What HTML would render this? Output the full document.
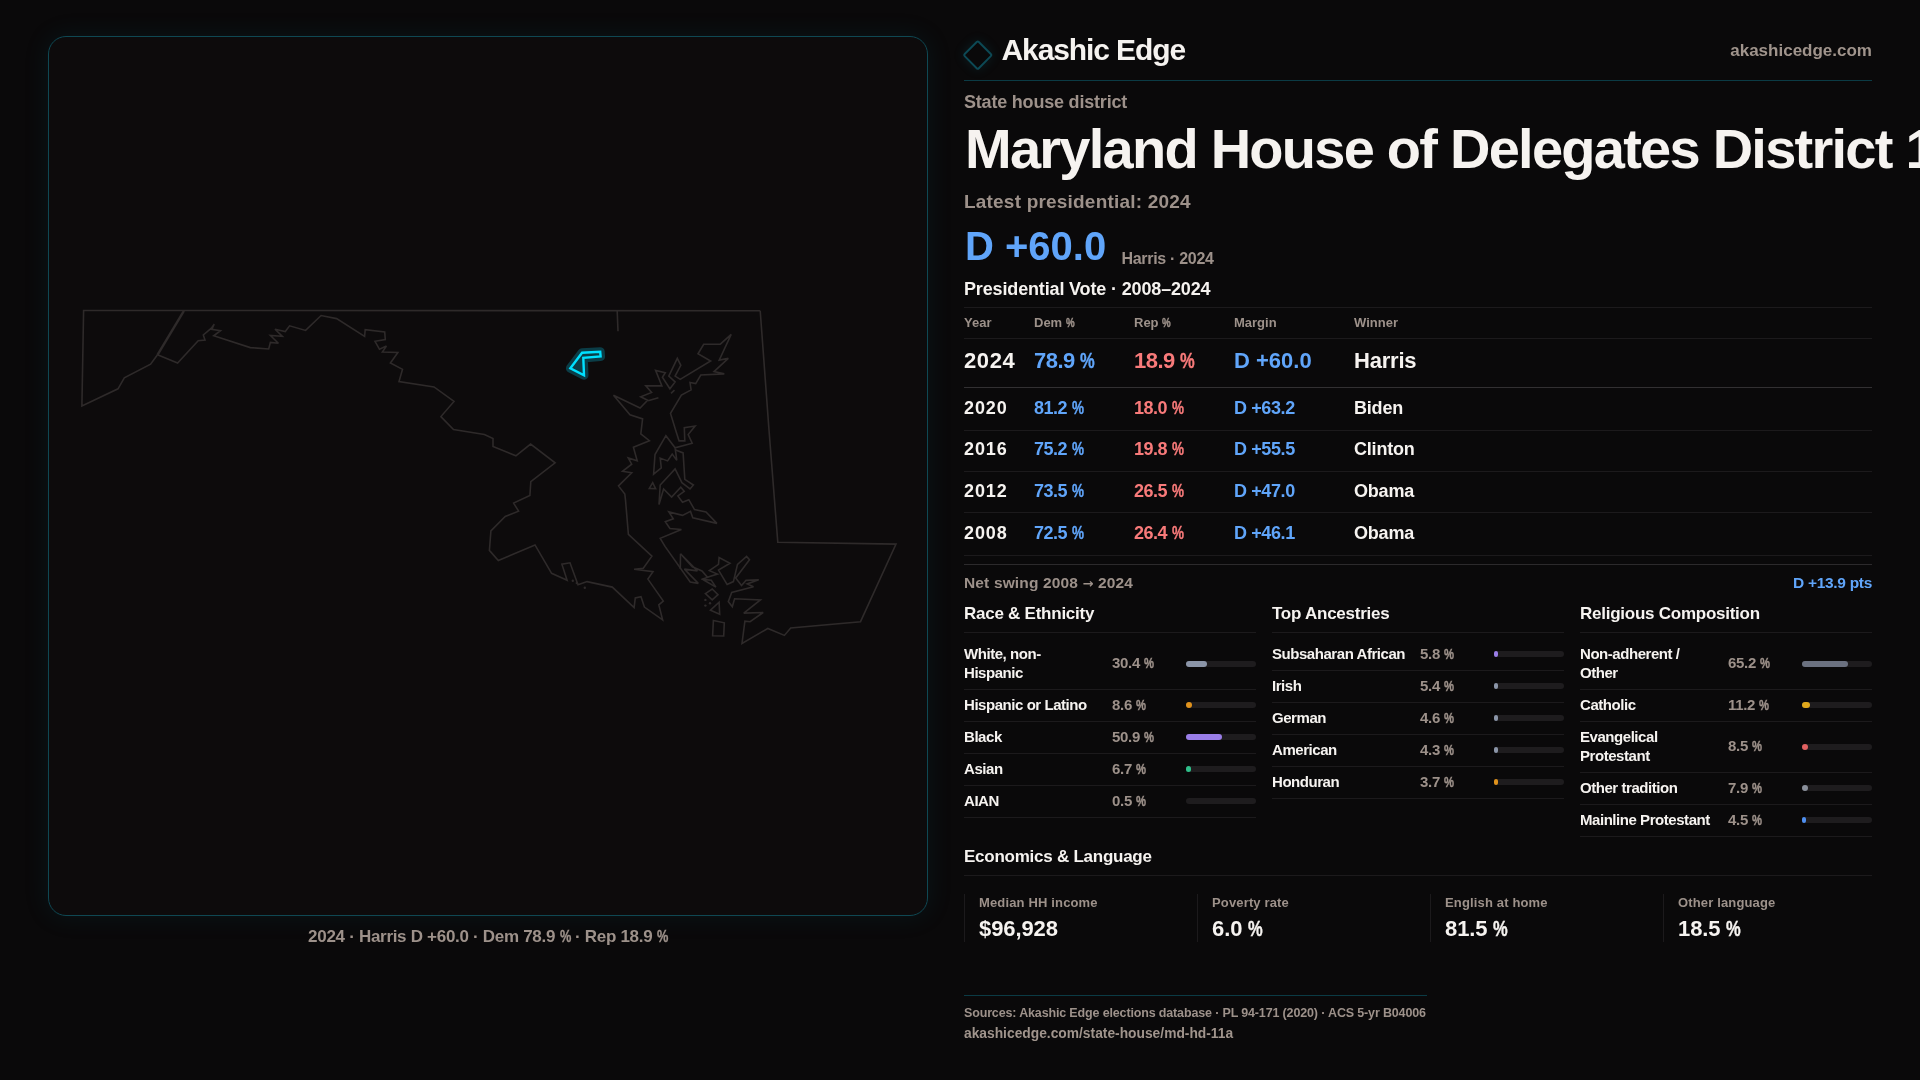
<!DOCTYPE html>
<html><head><meta charset="utf-8"><title>Maryland House of Delegates District 11A</title>
<style>
*{box-sizing:border-box;margin:0;padding:0}
html,body{width:1920px;height:1080px;overflow:hidden;background:#0a090a;color:#f5f2ef;font-family:"Liberation Sans",Arial,sans-serif;font-weight:bold}
.t{position:absolute;white-space:nowrap}
#root{position:absolute;left:0;top:0;width:1920px;height:1080px;will-change:transform}
.ln{position:absolute}
.wh{color:#f6f3f0}
.mu{color:#9d918a}
.mu2{color:#a0948c}
.bl{color:#60a5fa}
.rd{color:#f87a7a}
#map{position:absolute;left:48px;top:36px;width:880px;height:880px;border:1px solid #0f4853;border-radius:18px;background:#0d0b0c;box-shadow:0 0 24px 2px rgba(20,120,140,0.10)}
#map svg{position:absolute;left:-1px;top:-1px}
.dia{position:absolute;left:966.85px;top:44.25px;width:21.5px;height:21.5px;border:2.1px solid #0d4955;border-radius:2.5px;transform:rotate(45deg);box-shadow:0 0 12px rgba(20,120,140,.18)}
.trk{position:absolute;width:70px;height:6px;border-radius:3px;background:#1e1c1e}
.bar{position:absolute;height:6px;border-radius:3px}
i.p{font-style:normal;display:inline-block;transform:scaleX(.75);-webkit-text-stroke:0.4px currentColor;transform-origin:0 50%;margin-right:-0.22em}
.ar{font-family:'DejaVu Sans',sans-serif;font-weight:bold;font-size:13px}
.vl{position:absolute;width:1px;background:#1c1a1c}
</style></head>
<body>
<div id="root">
<div id="map"><svg width="880" height="880" viewBox="48 36 880 880"><polyline points="760.2,310.7 83.6,310.5 81.9,406.0 118.0,388.8 124.3,377.9 150.6,364.2 157.5,354.8 177.6,363.0 198.2,340.7 205.0,340.1 203.3,335.0 211.4,328.1 214.2,324.1 211.9,329.3 220.5,330.7 213.7,335.8 250.3,347.6 268.7,349.0 270.4,342.4 278.4,343.3 270.4,335.5 282.4,336.4 275.0,329.2 285.3,331.5 289.6,325.8 305.6,330.4 321.1,315.5 336.6,318.6 364.6,336.4 365.2,329.6 384.7,331.9 385.3,339.5 375.0,341.3 379.5,349.3 386.4,346.1 382.4,352.1 397.9,352.5 390.4,363.0 402.5,369.3 399.0,381.6 434.0,386.9 454.0,401.4 440.9,416.6 453.5,429.6 484.4,434.4 493.0,438.4 493.0,446.4 515.9,455.8 530.6,444.1 555.1,462.8 530.8,481.6 529.9,495.5 513.6,503.1 518.6,511.2 505.2,516.5 490.9,530.9 489.4,550.4 498.3,560.5 535.0,544.9 551.6,573.3 567.1,580.2 561.9,564.2 570.0,562.8 578.0,584.8 587.1,581.6 612.3,587.1 634.1,607.7 635.3,598.0 641.0,596.8 644.4,607.1 662.6,619.8 658.8,604.8 663.3,601.1 647.9,579.1 653.0,571.6 634.1,569.3 643.3,568.2 651.9,556.1 628.4,534.4 625.5,500.0 624.8,494.0 618.5,485.9 631.7,472.8 622.5,471.3 631.7,464.2 628.2,457.9 637.2,460.7 633.4,447.2 649.4,440.7 640.8,433.8 642.6,418.9 630.0,414.7 613.5,395.2 640.1,408.0 647.6,400.2 640.7,396.8 651.6,392.4 645.8,385.9 661.9,385.9 655.6,370.4 665.3,372.7 662.4,377.3 669.9,388.8 675.1,381.9 668.8,376.1 677.3,358.4 680.8,365.3 675.1,376.1 680.2,379.4 710.6,361.0 698.0,353.8 703.7,344.3 720.3,344.1 731.2,334.3 719.2,360.1 728.3,358.4 714.0,371.6 724.3,373.9 700.8,375.0 695.7,383.6 690.0,382.5 691.1,389.9 681.4,395.1 670.5,413.4 675.6,430.0 679.1,440.9 684.8,440.9 684.3,427.7 695.1,426.0 688.2,434.6 692.2,443.2 675.1,447.8 665.9,435.7 655.0,454.6 653.6,474.1 661.3,467.8 660.2,458.1 667.6,460.9 672.2,454.1 676.8,460.4 675.1,447.8" fill="none" stroke="#2e2a2a" stroke-width="1.6" stroke-linejoin="miter" stroke-miterlimit="3"/><polyline points="675.6,450.1 683.1,452.9 684.8,479.3 693.4,485.0 690.0,489.0 681.9,482.7 675.1,469.0 660.2,485.0 659.0,504.5 663.6,489.0 671.6,497.0 680.8,487.3 684.2,491.3 677.9,495.9 682.5,502.2 688.8,499.7 694.5,509.6 706.0,511.9 716.9,523.4 692.8,517.7 690.5,511.4 682.5,515.4 668.8,511.9 673.3,518.8 665.3,521.7 669.9,528.5 681.4,529.5 660.2,538.3 665.0,546.4 690.2,582.0 698.3,583.4 684.4,569.1 697.4,570.9 680.5,553.8 692.3,566.8 702.0,570.9 707.6,577.4 701.6,579.3 711.3,580.2 715.9,587.1 702.5,579.3 708.2,577.0 717.4,574.1 709.4,570.7 718.5,564.4 719.1,557.5 730.0,563.2 718.5,570.1 727.1,584.4 733.4,581.6 737.5,564.4 746.6,556.4 749.5,559.8 735.7,578.1 741.5,585.6 746.0,580.4 758.7,579.8 747.2,583.9 753.5,586.7 731.7,592.5 728.3,601.6 732.3,606.8 734.6,598.8 760.4,599.9 743.8,613.1 763.2,612.5 750.1,621.7 744.9,621.1 742.0,643.4 767.8,628.5 784.4,635.4 790.7,628.0 860.5,621.7 896.0,544.1 777.8,542.3 769.0,430.0 760.2,310.7" fill="none" stroke="#2e2a2a" stroke-width="1.6" stroke-linejoin="miter" stroke-miterlimit="3"/><polyline points="157.5,354.8 183.9,310.9" fill="none" stroke="#2e2a2a" stroke-width="1.6" stroke-linejoin="miter" stroke-miterlimit="3" style="stroke-width:2.4"/><polyline points="617.2,311.0 618.0,331.2" fill="none" stroke="#2e2a2a" stroke-width="1.6" stroke-linejoin="miter" stroke-miterlimit="3"/><polyline points="680.5,553.8 680.3,569.0" fill="none" stroke="#2e2a2a" stroke-width="1.6" stroke-linejoin="miter" stroke-miterlimit="3"/><polyline points="648.1,400.8 658.4,397.7" fill="none" stroke="#2e2a2a" stroke-width="1.6" stroke-linejoin="miter" stroke-miterlimit="3"/><polyline points="671.0,393.3 674.5,390.1" fill="none" stroke="#2e2a2a" stroke-width="1.6" stroke-linejoin="miter" stroke-miterlimit="3"/><polygon points="652.7,482.7 649.3,488.4 655.6,488.7" fill="none" stroke="#2e2a2a" stroke-width="1.6" stroke-linejoin="miter" stroke-miterlimit="3"/><polygon points="705.4,593.6 712.2,589.0 718.0,594.7 712.2,599.9" fill="none" stroke="#2e2a2a" stroke-width="1.6" stroke-linejoin="miter" stroke-miterlimit="3"/><polygon points="710.5,610.2 719.1,602.2 719.7,614.2" fill="none" stroke="#2e2a2a" stroke-width="1.6" stroke-linejoin="miter" stroke-miterlimit="3"/><polygon points="713.4,620.5 724.3,622.8 723.7,636.0 712.6,635.7" fill="none" stroke="#2e2a2a" stroke-width="1.6" stroke-linejoin="miter" stroke-miterlimit="3"/><circle cx="705.4" cy="599.9" r="1.2" fill="#2e2a2a"/><circle cx="710" cy="603.3" r="1.2" fill="#2e2a2a"/><circle cx="705.4" cy="605.6" r="1.2" fill="#2e2a2a"/><circle cx="572.8" cy="580.8" r="1.2" fill="#2e2a2a"/><circle cx="576.8" cy="583.1" r="1.2" fill="#2e2a2a"/><circle cx="584.8" cy="587.7" r="1.2" fill="#2e2a2a"/><polygon points="570.4,368.3 582.1,352.7 600.2,351.7 600.6,356.5 583.3,357.9 584.0,375.2" fill="#0b3d47" stroke="#0b3d47" stroke-width="9" stroke-linejoin="round"/><polygon points="570.4,368.3 582.1,352.7 600.2,351.7 600.6,356.5 583.3,357.9 584.0,375.2" fill="#0b3d47" stroke="#00e0ff" stroke-width="2.4" stroke-linejoin="miter"/></svg></div>
<div class="t mu" style="left:0.0px;top:928.1px;font-size:17px;line-height:17px;letter-spacing:-0.3px;left:48px;width:880px;text-align:center">2024 · Harris D +60.0 · Dem 78.9&nbsp;<i class="p">%</i> · Rep 18.9&nbsp;<i class="p">%</i></div>

<div class="dia"></div>
<div class="t wh" style="left:1001.5px;top:35.2px;font-size:30px;line-height:30px;letter-spacing:-1.1px">Akashic Edge</div>
<div class="t mu2" style="right:48px;top:42.3px;font-size:17px;line-height:17px;">akashicedge.com</div>
<div class="ln" style="left:964px;top:80.0px;width:908px;height:1px;background:#0b3b45"></div>
<div class="t mu" style="left:964.0px;top:93.1px;font-size:18px;line-height:18px;letter-spacing:-0.2px">State house district</div>
<div class="t wh" style="left:965.0px;top:120.7px;font-size:56px;line-height:56px;letter-spacing:-1.75px">Maryland House of Delegates District 11A</div>
<div class="t mu" style="left:964.0px;top:192.0px;font-size:19px;line-height:19px;letter-spacing:0.2px">Latest presidential: 2024</div>
<div class="t bl" style="left:965.0px;top:225.6px;font-size:40px;line-height:40px;">D +60.0</div>
<div class="t mu" style="left:1121.5px;top:251.1px;font-size:16px;line-height:16px;letter-spacing:-0.3px">Harris · 2024</div>
<div class="t wh" style="left:964.0px;top:279.5px;font-size:18px;line-height:18px;letter-spacing:-0.15px">Presidential Vote · 2008–2024</div>
<div class="ln" style="left:964px;top:307.0px;width:908px;height:1px;background:#1c1a1c"></div>
<div class="t mu" style="left:964.0px;top:315.7px;font-size:13px;line-height:13px;">Year</div>
<div class="t mu" style="left:1034.0px;top:315.7px;font-size:13px;line-height:13px;">Dem&nbsp;<i class="p">%</i></div>
<div class="t mu" style="left:1134.0px;top:315.7px;font-size:13px;line-height:13px;">Rep&nbsp;<i class="p">%</i></div>
<div class="t mu" style="left:1234.0px;top:315.7px;font-size:13px;line-height:13px;">Margin</div>
<div class="t mu" style="left:1354.0px;top:315.7px;font-size:13px;line-height:13px;">Winner</div>
<div class="ln" style="left:964px;top:338.0px;width:908px;height:1px;background:#1c1a1c"></div>
<div class="t wh" style="left:964.0px;top:350.3px;font-size:22px;line-height:22px;letter-spacing:0.6px">2024</div>
<div class="t bl" style="left:1034.0px;top:350.3px;font-size:22px;line-height:22px;letter-spacing:-0.5px">78.9&nbsp;<i class="p">%</i></div>
<div class="t rd" style="left:1134.0px;top:350.3px;font-size:22px;line-height:22px;letter-spacing:-0.5px">18.9&nbsp;<i class="p">%</i></div>
<div class="t bl" style="left:1234.0px;top:350.3px;font-size:22px;line-height:22px;letter-spacing:0px">D +60.0</div>
<div class="t wh" style="left:1354.0px;top:350.3px;font-size:22px;line-height:22px;letter-spacing:-0.2px">Harris</div>
<div class="ln" style="left:964px;top:387.0px;width:908px;height:1px;background:#323032"></div>
<div class="t wh" style="left:964.0px;top:399.3px;font-size:18px;line-height:18px;letter-spacing:0.9px">2020</div>
<div class="t bl" style="left:1034.0px;top:399.3px;font-size:18px;line-height:18px;letter-spacing:-0.5px">81.2&nbsp;<i class="p">%</i></div>
<div class="t rd" style="left:1134.0px;top:399.3px;font-size:18px;line-height:18px;letter-spacing:-0.5px">18.0&nbsp;<i class="p">%</i></div>
<div class="t bl" style="left:1234.0px;top:399.3px;font-size:18px;line-height:18px;letter-spacing:-0.4px">D +63.2</div>
<div class="t wh" style="left:1354.0px;top:399.3px;font-size:18px;line-height:18px;letter-spacing:-0.2px">Biden</div>
<div class="ln" style="left:964px;top:430.0px;width:908px;height:1px;background:#1c1a1c"></div>
<div class="t wh" style="left:964.0px;top:440.1px;font-size:18px;line-height:18px;letter-spacing:0.9px">2016</div>
<div class="t bl" style="left:1034.0px;top:440.1px;font-size:18px;line-height:18px;letter-spacing:-0.5px">75.2&nbsp;<i class="p">%</i></div>
<div class="t rd" style="left:1134.0px;top:440.1px;font-size:18px;line-height:18px;letter-spacing:-0.5px">19.8&nbsp;<i class="p">%</i></div>
<div class="t bl" style="left:1234.0px;top:440.1px;font-size:18px;line-height:18px;letter-spacing:-0.4px">D +55.5</div>
<div class="t wh" style="left:1354.0px;top:440.1px;font-size:18px;line-height:18px;letter-spacing:-0.2px">Clinton</div>
<div class="ln" style="left:964px;top:471.0px;width:908px;height:1px;background:#1c1a1c"></div>
<div class="t wh" style="left:964.0px;top:482.1px;font-size:18px;line-height:18px;letter-spacing:0.9px">2012</div>
<div class="t bl" style="left:1034.0px;top:482.1px;font-size:18px;line-height:18px;letter-spacing:-0.5px">73.5&nbsp;<i class="p">%</i></div>
<div class="t rd" style="left:1134.0px;top:482.1px;font-size:18px;line-height:18px;letter-spacing:-0.5px">26.5&nbsp;<i class="p">%</i></div>
<div class="t bl" style="left:1234.0px;top:482.1px;font-size:18px;line-height:18px;letter-spacing:-0.4px">D +47.0</div>
<div class="t wh" style="left:1354.0px;top:482.1px;font-size:18px;line-height:18px;letter-spacing:-0.2px">Obama</div>
<div class="ln" style="left:964px;top:512.0px;width:908px;height:1px;background:#1c1a1c"></div>
<div class="t wh" style="left:964.0px;top:523.9px;font-size:18px;line-height:18px;letter-spacing:0.9px">2008</div>
<div class="t bl" style="left:1034.0px;top:523.9px;font-size:18px;line-height:18px;letter-spacing:-0.5px">72.5&nbsp;<i class="p">%</i></div>
<div class="t rd" style="left:1134.0px;top:523.9px;font-size:18px;line-height:18px;letter-spacing:-0.5px">26.4&nbsp;<i class="p">%</i></div>
<div class="t bl" style="left:1234.0px;top:523.9px;font-size:18px;line-height:18px;letter-spacing:-0.4px">D +46.1</div>
<div class="t wh" style="left:1354.0px;top:523.9px;font-size:18px;line-height:18px;letter-spacing:-0.2px">Obama</div>
<div class="ln" style="left:964px;top:555.0px;width:908px;height:1px;background:#1c1a1c"></div>
<div class="ln" style="left:964px;top:564.0px;width:908px;height:1px;background:#2c2a2c"></div>
<div class="t mu" style="left:964.0px;top:574.5px;font-size:15.5px;line-height:15.5px;letter-spacing:0.15px">Net swing 2008 <span class="ar">→</span> 2024</div>
<div class="t bl" style="right:48px;top:574.5px;font-size:15.5px;line-height:15.5px;letter-spacing:-0.3px">D +13.9 pts</div>
<div class="t wh" style="left:964.0px;top:604.5px;font-size:17px;line-height:17px;letter-spacing:-0.25px">Race &amp; Ethnicity</div>
<div class="ln" style="left:964px;top:632.0px;width:292px;height:1px;background:#1c1a1c"></div>
<div class="t wh" style="left:964.0px;top:646.0px;font-size:15px;line-height:15px;letter-spacing:-0.45px">White, non-</div>
<div class="t wh" style="left:964.0px;top:665.0px;font-size:15px;line-height:15px;letter-spacing:-0.45px">Hispanic</div>
<div class="t mu" style="left:1112.0px;top:655.2px;font-size:15px;line-height:15px;letter-spacing:-0.3px">30.4&nbsp;<i class="p">%</i></div>
<div class="trk" style="left:1186px;top:660.5px"></div>
<div class="bar" style="left:1186px;top:660.5px;width:21.3px;background:#8b95a8"></div>
<div class="ln" style="left:964px;top:689.0px;width:292px;height:1px;background:#1c1a1c"></div>
<div class="t wh" style="left:964.0px;top:697.0px;font-size:15px;line-height:15px;letter-spacing:-0.45px">Hispanic or Latino</div>
<div class="t mu" style="left:1112.0px;top:696.7px;font-size:15px;line-height:15px;letter-spacing:-0.3px">8.6&nbsp;<i class="p">%</i></div>
<div class="trk" style="left:1186px;top:702.0px"></div>
<div class="bar" style="left:1186px;top:702.0px;width:6.0px;background:#e0921c"></div>
<div class="ln" style="left:964px;top:721.0px;width:292px;height:1px;background:#1c1a1c"></div>
<div class="t wh" style="left:964.0px;top:729.0px;font-size:15px;line-height:15px;letter-spacing:-0.45px">Black</div>
<div class="t mu" style="left:1112.0px;top:728.7px;font-size:15px;line-height:15px;letter-spacing:-0.3px">50.9&nbsp;<i class="p">%</i></div>
<div class="trk" style="left:1186px;top:734.0px"></div>
<div class="bar" style="left:1186px;top:734.0px;width:35.6px;background:#9a7ee8"></div>
<div class="ln" style="left:964px;top:753.0px;width:292px;height:1px;background:#1c1a1c"></div>
<div class="t wh" style="left:964.0px;top:761.0px;font-size:15px;line-height:15px;letter-spacing:-0.45px">Asian</div>
<div class="t mu" style="left:1112.0px;top:760.7px;font-size:15px;line-height:15px;letter-spacing:-0.3px">6.7&nbsp;<i class="p">%</i></div>
<div class="trk" style="left:1186px;top:766.0px"></div>
<div class="bar" style="left:1186px;top:766.0px;width:4.7px;background:#2fbf8a"></div>
<div class="ln" style="left:964px;top:785.0px;width:292px;height:1px;background:#1c1a1c"></div>
<div class="t wh" style="left:964.0px;top:793.0px;font-size:15px;line-height:15px;letter-spacing:-0.45px">AIAN</div>
<div class="t mu" style="left:1112.0px;top:792.7px;font-size:15px;line-height:15px;letter-spacing:-0.3px">0.5&nbsp;<i class="p">%</i></div>
<div class="trk" style="left:1186px;top:798.0px"></div>
<div class="ln" style="left:964px;top:817.0px;width:292px;height:1px;background:#1c1a1c"></div>
<div class="t wh" style="left:1272.0px;top:604.5px;font-size:17px;line-height:17px;letter-spacing:-0.25px">Top Ancestries</div>
<div class="ln" style="left:1272px;top:632.0px;width:292px;height:1px;background:#1c1a1c"></div>
<div class="t wh" style="left:1272.0px;top:646.0px;font-size:15px;line-height:15px;letter-spacing:-0.45px">Subsaharan African</div>
<div class="t mu" style="left:1420.0px;top:645.7px;font-size:15px;line-height:15px;letter-spacing:-0.3px">5.8&nbsp;<i class="p">%</i></div>
<div class="trk" style="left:1494px;top:651.0px"></div>
<div class="bar" style="left:1494px;top:651.0px;width:4.1px;background:#9a7ee8"></div>
<div class="ln" style="left:1272px;top:670.0px;width:292px;height:1px;background:#1c1a1c"></div>
<div class="t wh" style="left:1272.0px;top:678.0px;font-size:15px;line-height:15px;letter-spacing:-0.45px">Irish</div>
<div class="t mu" style="left:1420.0px;top:677.7px;font-size:15px;line-height:15px;letter-spacing:-0.3px">5.4&nbsp;<i class="p">%</i></div>
<div class="trk" style="left:1494px;top:683.0px"></div>
<div class="bar" style="left:1494px;top:683.0px;width:3.8px;background:#8b95a8"></div>
<div class="ln" style="left:1272px;top:702.0px;width:292px;height:1px;background:#1c1a1c"></div>
<div class="t wh" style="left:1272.0px;top:710.0px;font-size:15px;line-height:15px;letter-spacing:-0.45px">German</div>
<div class="t mu" style="left:1420.0px;top:709.7px;font-size:15px;line-height:15px;letter-spacing:-0.3px">4.6&nbsp;<i class="p">%</i></div>
<div class="trk" style="left:1494px;top:715.0px"></div>
<div class="bar" style="left:1494px;top:715.0px;width:3.5px;background:#8b95a8"></div>
<div class="ln" style="left:1272px;top:734.0px;width:292px;height:1px;background:#1c1a1c"></div>
<div class="t wh" style="left:1272.0px;top:742.0px;font-size:15px;line-height:15px;letter-spacing:-0.45px">American</div>
<div class="t mu" style="left:1420.0px;top:741.7px;font-size:15px;line-height:15px;letter-spacing:-0.3px">4.3&nbsp;<i class="p">%</i></div>
<div class="trk" style="left:1494px;top:747.0px"></div>
<div class="bar" style="left:1494px;top:747.0px;width:3.5px;background:#8b95a8"></div>
<div class="ln" style="left:1272px;top:766.0px;width:292px;height:1px;background:#1c1a1c"></div>
<div class="t wh" style="left:1272.0px;top:774.0px;font-size:15px;line-height:15px;letter-spacing:-0.45px">Honduran</div>
<div class="t mu" style="left:1420.0px;top:773.7px;font-size:15px;line-height:15px;letter-spacing:-0.3px">3.7&nbsp;<i class="p">%</i></div>
<div class="trk" style="left:1494px;top:779.0px"></div>
<div class="bar" style="left:1494px;top:779.0px;width:3.5px;background:#e0921c"></div>
<div class="ln" style="left:1272px;top:798.0px;width:292px;height:1px;background:#1c1a1c"></div>
<div class="t wh" style="left:1580.0px;top:604.5px;font-size:17px;line-height:17px;letter-spacing:-0.25px">Religious Composition</div>
<div class="ln" style="left:1580px;top:632.0px;width:292px;height:1px;background:#1c1a1c"></div>
<div class="t wh" style="left:1580.0px;top:646.0px;font-size:15px;line-height:15px;letter-spacing:-0.45px">Non-adherent /</div>
<div class="t wh" style="left:1580.0px;top:665.0px;font-size:15px;line-height:15px;letter-spacing:-0.45px">Other</div>
<div class="t mu" style="left:1728.0px;top:655.2px;font-size:15px;line-height:15px;letter-spacing:-0.3px">65.2&nbsp;<i class="p">%</i></div>
<div class="trk" style="left:1802px;top:660.5px"></div>
<div class="bar" style="left:1802px;top:660.5px;width:45.6px;background:#6b7180"></div>
<div class="ln" style="left:1580px;top:689.0px;width:292px;height:1px;background:#1c1a1c"></div>
<div class="t wh" style="left:1580.0px;top:697.0px;font-size:15px;line-height:15px;letter-spacing:-0.45px">Catholic</div>
<div class="t mu" style="left:1728.0px;top:696.7px;font-size:15px;line-height:15px;letter-spacing:-0.3px">11.2&nbsp;<i class="p">%</i></div>
<div class="trk" style="left:1802px;top:702.0px"></div>
<div class="bar" style="left:1802px;top:702.0px;width:7.8px;background:#e0a81c"></div>
<div class="ln" style="left:1580px;top:721.0px;width:292px;height:1px;background:#1c1a1c"></div>
<div class="t wh" style="left:1580.0px;top:729.0px;font-size:15px;line-height:15px;letter-spacing:-0.45px">Evangelical</div>
<div class="t wh" style="left:1580.0px;top:748.0px;font-size:15px;line-height:15px;letter-spacing:-0.45px">Protestant</div>
<div class="t mu" style="left:1728.0px;top:738.2px;font-size:15px;line-height:15px;letter-spacing:-0.3px">8.5&nbsp;<i class="p">%</i></div>
<div class="trk" style="left:1802px;top:743.5px"></div>
<div class="bar" style="left:1802px;top:743.5px;width:6.0px;background:#e06060"></div>
<div class="ln" style="left:1580px;top:772.0px;width:292px;height:1px;background:#1c1a1c"></div>
<div class="t wh" style="left:1580.0px;top:780.0px;font-size:15px;line-height:15px;letter-spacing:-0.45px">Other tradition</div>
<div class="t mu" style="left:1728.0px;top:779.7px;font-size:15px;line-height:15px;letter-spacing:-0.3px">7.9&nbsp;<i class="p">%</i></div>
<div class="trk" style="left:1802px;top:785.0px"></div>
<div class="bar" style="left:1802px;top:785.0px;width:5.5px;background:#8a8f9a"></div>
<div class="ln" style="left:1580px;top:804.0px;width:292px;height:1px;background:#1c1a1c"></div>
<div class="t wh" style="left:1580.0px;top:812.0px;font-size:15px;line-height:15px;letter-spacing:-0.45px">Mainline Protestant</div>
<div class="t mu" style="left:1728.0px;top:811.7px;font-size:15px;line-height:15px;letter-spacing:-0.3px">4.5&nbsp;<i class="p">%</i></div>
<div class="trk" style="left:1802px;top:817.0px"></div>
<div class="bar" style="left:1802px;top:817.0px;width:3.5px;background:#4f8ff0"></div>
<div class="ln" style="left:1580px;top:836.0px;width:292px;height:1px;background:#1c1a1c"></div>
<div class="t wh" style="left:964.0px;top:848.0px;font-size:17px;line-height:17px;letter-spacing:-0.25px">Economics &amp; Language</div>
<div class="ln" style="left:964px;top:875.0px;width:908px;height:1px;background:#1c1a1c"></div>
<div class="vl" style="left:964px;top:894px;height:48px"></div>
<div class="t mu" style="left:979.0px;top:896.2px;font-size:13px;line-height:13px;letter-spacing:0.15px">Median HH income</div>
<div class="t wh" style="left:979.0px;top:917.5px;font-size:22px;line-height:22px;letter-spacing:-0.1px">$96,928</div>
<div class="vl" style="left:1197px;top:894px;height:48px"></div>
<div class="t mu" style="left:1212.0px;top:896.2px;font-size:13px;line-height:13px;letter-spacing:0.15px">Poverty rate</div>
<div class="t wh" style="left:1212.0px;top:917.5px;font-size:22px;line-height:22px;letter-spacing:-0.1px">6.0&nbsp;<i class="p">%</i></div>
<div class="vl" style="left:1430px;top:894px;height:48px"></div>
<div class="t mu" style="left:1445.0px;top:896.2px;font-size:13px;line-height:13px;letter-spacing:0.15px">English at home</div>
<div class="t wh" style="left:1445.0px;top:917.5px;font-size:22px;line-height:22px;letter-spacing:-0.1px">81.5&nbsp;<i class="p">%</i></div>
<div class="vl" style="left:1663px;top:894px;height:48px"></div>
<div class="t mu" style="left:1678.0px;top:896.2px;font-size:13px;line-height:13px;letter-spacing:0.15px">Other language</div>
<div class="t wh" style="left:1678.0px;top:917.5px;font-size:22px;line-height:22px;letter-spacing:-0.1px">18.5&nbsp;<i class="p">%</i></div>
<div class="ln" style="left:964px;top:995.0px;width:463px;height:1px;background:#0b3b45"></div>
<div class="t mu" style="left:964.0px;top:1007.3px;font-size:12.5px;line-height:12.5px;letter-spacing:-0.15px">Sources: Akashic Edge elections database · PL 94-171 (2020) · ACS 5-yr B04006</div>
<div class="t mu2" style="left:964.0px;top:1027.0px;font-size:13.8px;line-height:13.8px;letter-spacing:0px">akashicedge.com/state-house/md-hd-11a</div>

</div>
</body></html>
